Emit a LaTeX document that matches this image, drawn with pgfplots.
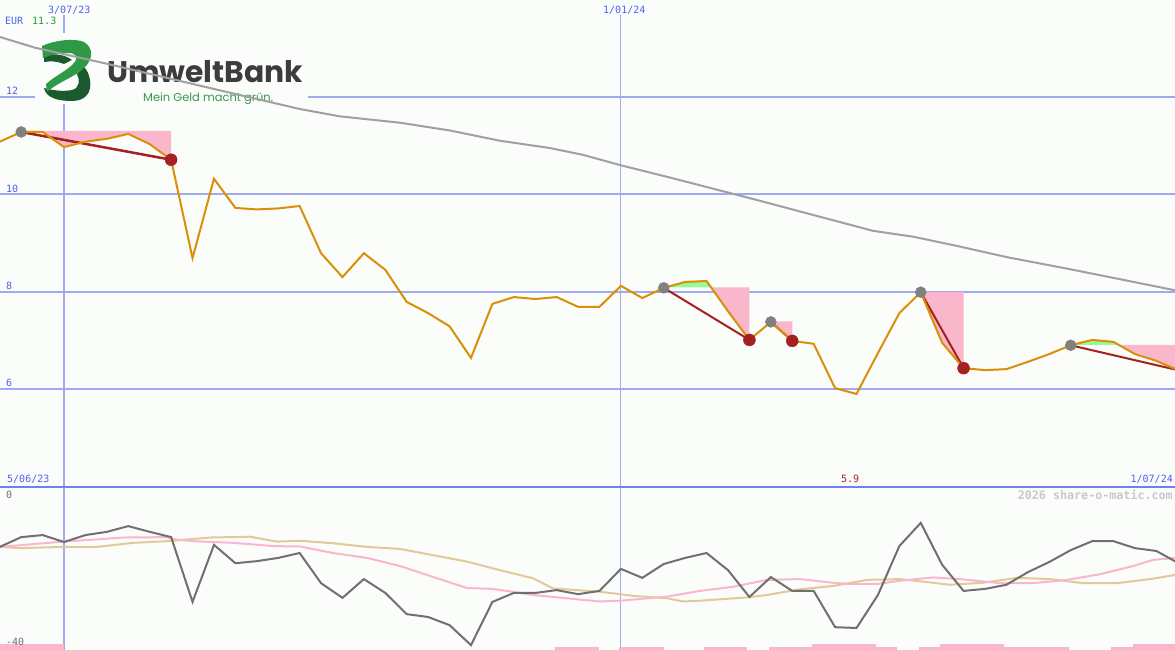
\documentclass[border=0pt]{standalone}
\usepackage{pgfplots}
\pgfplotsset{compat=1.18}
\usepackage{pgfplotstable}
\usepgfplotslibrary{fillbetween}
\usepackage{graphicx}
\usepackage{fontspec}
\setmainfont{DejaVu Sans}
\setmonofont{DejaVu Sans Mono}
\newfontfamily\logofont{Poppins}

\definecolor{bgc}{RGB}{251,253,251}
\definecolor{gridblue}{RGB}{160,170,240}
\definecolor{sepblue}{RGB}{112,128,240}
\definecolor{lblblue}{RGB}{80,96,240}
\definecolor{pricec}{RGB}{216,144,8}
\definecolor{mac}{RGB}{160,160,160}
\definecolor{trendred}{RGB}{165,32,32}
\definecolor{markgray}{RGB}{128,128,128}
\definecolor{pinkf}{RGB}{250,182,203}
\definecolor{greenf}{RGB}{152,250,152}
\definecolor{oscgray}{RGB}{112,112,112}
\definecolor{osctan}{RGB}{226,202,152}
\definecolor{logolight}{RGB}{46,154,72}
\definecolor{logodark}{RGB}{26,90,46}
\definecolor{logotext}{RGB}{60,60,60}
\definecolor{logosub}{RGB}{58,150,80}
\definecolor{eurgreen}{RGB}{32,160,32}
\definecolor{wmark}{RGB}{200,200,200}

% weekly closes, x = weeks after 3/07/23
\pgfplotstableread{
w v
-3 11.08
-2 11.28
-1 11.28
0 10.97
1 11.08
2 11.14
3 11.24
4 11.03
5 10.71
6 8.69
7 10.32
8 9.72
9 9.69
10 9.71
11 9.76
12 8.79
13 8.30
14 8.79
15 8.45
16 7.79
17 7.56
18 7.29
19 6.64
20 7.75
21 7.89
22 7.85
23 7.89
24 7.69
25 7.69
26 8.12
27 7.87
28 8.08
29 8.20
30 8.22
31 7.60
32 7.01
33 7.38
34 6.99
35 6.93
36 6.02
37 5.90
38 6.74
39 7.56
40 7.99
41 6.95
42 6.43
43 6.39
44 6.41
45 6.56
46 6.72
47 6.90
48 7.01
49 6.97
50 6.72
51 6.58
52 6.39
}\price

\begin{document}
\begin{tikzpicture}
\fill[bgc] (0,0) rectangle (1175bp,650bp);

\pgfplotsset{base/.style={scale only axis, width=1175bp,
  xmin=-2.99, xmax=51.87, axis line style={draw=none},
  major tick length=0pt, xtick=\empty, clip=true}}

% upper grid
\begin{axis}[base, at={(0bp,163bp)}, anchor=south west, height=487bp,
  ymin=3.99, ymax=13.99, ytick={6,8,10,12}, yticklabels={},
  ymajorgrids, grid style={gridblue, line width=2bp}]
\draw[gridblue, line width=2bp] (axis cs:0,3.99) -- (axis cs:0,13.68);
\draw[gridblue, line width=1bp] (axis cs:26,3.99) -- (axis cs:26,13.68);
\end{axis}

% logo
\begin{scope}[shift={(0bp,650bp)}, x=1bp, y=-1bp]
\fill[bgc] (35,33) rectangle (308,104);
\fill[logodark] (44,88) .. controls (46,98) and (58,101) .. (72,101)
  .. controls (86,101) and (92,92) .. (90,80) .. controls (89,74) and (87,70) .. (84,67)
  -- (77,74) .. controls (80,80) and (80,88) .. (72,90)
  .. controls (62,92) and (52,90) .. (44,88) -- cycle;
\fill[logodark] (44,55) .. controls (55,53) and (66,55) .. (72,60) -- (64,64)
  .. controls (57,61) and (50,61) .. (44,62) -- cycle;
\fill[logolight] (42,46) .. controls (55,40) and (75,38) .. (84,42)
  .. controls (94,48) and (93,60) .. (84,68) .. controls (75,77) and (58,82) .. (47,92)
  -- (46,84) .. controls (55,76) and (68,70) .. (74,63)
  .. controls (79,57) and (76,53) .. (68,53) .. controls (60,53) and (50,55) .. (43,58) -- cycle;
\node[anchor=base west, inner sep=0, text=logotext] at (107,83)
  {\resizebox{196bp}{!}{\logofont\bfseries UmweltBank}};
\node[anchor=base west, inner sep=0, text=logosub] at (143,101.5)
  {\resizebox{130bp}{!}{\logofont Mein Geld macht grün.}};
\end{scope}

% upper content
\begin{axis}[base, at={(0bp,163bp)}, anchor=south west, height=487bp,
  ymin=3.99, ymax=13.99, ytick=\empty, fill between/on layer=main]
\addplot[mac, line width=2bp] coordinates {
  (-2.99,13.23)(-1.35,13.01)(1.91,12.69)(6.35,12.23)(11.02,11.75)(12.89,11.60)
  (15.69,11.47)(18.02,11.31)(20.35,11.10)(22.69,10.95)(24.23,10.81)(25.96,10.60)
  (28.15,10.36)(32.03,9.92)(37.77,9.25)(39.64,9.13)(41.69,8.94)(44.02,8.71)
  (47.11,8.45)(51.87,8.03)};
\addplot[draw=none, name path=price] table[x=w, y=v] {\price};
\addplot[draw=none, name path=lvlA] coordinates {(-2,11.30)(5,11.30)};
\addplot[draw=none, name path=lvlB] coordinates {(28,8.09)(32,8.09)};
\addplot[draw=none, name path=lvlC] coordinates {(33,7.39)(34,7.39)};
\addplot[draw=none, name path=lvlD] coordinates {(40,7.99)(42,7.99)};
\addplot[draw=none, name path=lvlE] coordinates {(47,6.91)(52,6.91)};
\addplot[pinkf, draw=none] fill between[of=price and lvlA, soft clip={domain=-2:5}];
\addplot[greenf, draw=none] fill between[of=price and lvlB, soft clip={domain=28:30.2}];
\addplot[pinkf, draw=none] fill between[of=price and lvlB, soft clip={domain=30.2:32}];
\addplot[pinkf, draw=none] fill between[of=price and lvlC, soft clip={domain=33:34}];
\addplot[pinkf, draw=none] fill between[of=price and lvlD, soft clip={domain=40:42}];
\addplot[greenf, draw=none] fill between[of=price and lvlE, soft clip={domain=47:49.24}];
\addplot[pinkf, draw=none] fill between[of=price and lvlE, soft clip={domain=49.24:52}];
\addplot[trendred, line width=2.5bp] coordinates {(-2,11.28)(5,10.71)};
\addplot[trendred, line width=2bp] coordinates {(28,8.08)(32,7.01)};
\addplot[trendred, line width=2bp] coordinates {(33,7.38)(34,6.99)};
\addplot[trendred, line width=2bp] coordinates {(40,7.99)(42,6.43)};
\addplot[trendred, line width=2bp] coordinates {(47,6.90)(52,6.39)};
\addplot[only marks, mark=*, mark size=5.5bp, mark options={draw=markgray, fill=markgray}]
  coordinates {(-2,11.28)(28,8.08)(33,7.38)(40,7.99)(47,6.90)};
\addplot[only marks, mark=*, mark size=6bp, mark options={draw=trendred, fill=trendred}]
  coordinates {(5,10.71)(32,7.01)(34,6.99)(42,6.43)(52,6.39)};
\addplot[pricec, line width=2bp] table[x=w, y=v] {\price};
\end{axis}

% lower panel
\begin{axis}[base, at={(0bp,0bp)}, anchor=south west, height=163bp,
  ymin=-40, ymax=0, ytick=\empty]
\draw[gridblue, line width=2bp] (axis cs:0,-40) -- (axis cs:0,0);
\draw[gridblue, line width=1bp] (axis cs:26,-40) -- (axis cs:26,0);
\addplot[fill=pinkf, draw=none] coordinates {(-3,-40)(-3,-38.45)(0,-38.45)(0,-40)} -- cycle;
\addplot[fill=pinkf, draw=none] coordinates {(22.9,-40)(22.9,-39.34)(25,-39.34)(25,-40)} -- cycle;
\addplot[fill=pinkf, draw=none] coordinates {(25.9,-40)(25.9,-39.34)(28,-39.34)(28,-40)} -- cycle;
\addplot[fill=pinkf, draw=none] coordinates {(29.9,-40)(29.9,-39.34)(31.9,-39.34)(31.9,-40)} -- cycle;
\addplot[fill=pinkf, draw=none] coordinates {(32.9,-40)(32.9,-39.34)(34.9,-39.34)(34.9,-40)} -- cycle;
\addplot[fill=pinkf, draw=none] coordinates {(34.9,-40)(34.9,-38.45)(37.9,-38.45)(37.9,-40)} -- cycle;
\addplot[fill=pinkf, draw=none] coordinates {(37.9,-40)(37.9,-39.34)(38.9,-39.34)(38.9,-40)} -- cycle;
\addplot[fill=pinkf, draw=none] coordinates {(39.9,-40)(39.9,-39.34)(40.9,-39.34)(40.9,-40)} -- cycle;
\addplot[fill=pinkf, draw=none] coordinates {(40.9,-40)(40.9,-38.45)(43.9,-38.45)(43.9,-40)} -- cycle;
\addplot[fill=pinkf, draw=none] coordinates {(43.9,-40)(43.9,-39.34)(46.9,-39.34)(46.9,-40)} -- cycle;
\addplot[fill=pinkf, draw=none] coordinates {(48.9,-40)(48.9,-39.34)(49.9,-39.34)(49.9,-40)} -- cycle;
\addplot[fill=pinkf, draw=none] coordinates {(49.9,-40)(49.9,-38.45)(52,-38.45)(52,-40)} -- cycle;
\addplot[osctan, line width=2bp] coordinates {
  (-2.99,-14.7)(-2.05,-15.0)(-0.05,-14.7)(1.54,-14.7)(3.22,-13.7)(4.81,-13.3)
  (6.82,-12.4)(8.68,-12.2)(9.94,-13.4)(11.02,-13.2)(12.56,-13.8)(14.15,-14.7)
  (15.69,-15.2)(18.81,-18.3)(20.35,-20.4)(21.90,-22.4)(22.83,-24.9)(25.02,-25.7)
  (26.56,-26.7)(28.15,-27.3)(28.90,-28.1)(29.69,-27.9)(31.89,-27.1)(32.82,-26.5)
  (34.36,-25.1)(35.90,-24.3)(37.49,-22.8)(39.03,-22.6)(40.57,-23.5)(41.36,-24.0)
  (42.90,-23.5)(44.49,-22.3)(46.03,-22.6)(47.57,-23.6)(49.16,-23.6)(50.70,-22.6)
  (51.87,-21.6)};
\addplot[pinkf, line width=2bp] coordinates {
  (-2.99,-14.7)(-0.05,-13.4)(1.68,-12.8)(2.75,-12.4)(4.81,-12.3)(5.09,-12.8)
  (6.02,-13.3)(7.89,-13.7)(9.76,-14.5)(11.02,-14.6)(12.56,-16.2)(14.15,-17.4)
  (15.69,-19.4)(18.81,-24.8)(20.03,-25.0)(21.90,-26.5)(25.02,-28.1)(25.96,-27.9)
  (28.15,-26.9)(29.69,-25.5)(31.23,-24.5)(32.82,-22.8)(34.36,-22.6)(35.90,-23.5)
  (36.69,-23.8)(37.96,-23.8)(39.03,-23.0)(40.57,-22.2)(41.83,-22.6)(43.70,-23.6)
  (45.24,-23.6)(46.83,-22.8)(48.37,-21.4)(49.91,-19.4)(50.84,-17.9)(51.87,-17.4)};
\addplot[oscgray, line width=2bp] coordinates {
  (-3,-14.7)(-2,-12.3)(-1,-11.8)(0,-13.5)(1,-11.8)(2,-11.0)(3,-9.6)(4,-11.0)
  (5,-12.3)(6,-28.2)(7,-14.2)(8,-18.7)(9,-18.2)(10,-17.4)(11,-16.2)(12,-23.6)
  (13,-27.2)(14,-22.6)(15,-26.0)(16,-31.2)(17,-31.9)(18,-33.9)(19,-38.8)(20,-28.2)
  (21,-26.0)(22,-26.0)(23,-25.3)(24,-26.3)(25,-25.5)(26,-20.1)(27,-22.3)(28,-18.9)
  (29,-17.4)(30,-16.2)(31,-20.4)(32,-27.0)(33,-22.1)(34,-25.5)(35,-25.5)(36,-34.4)
  (37,-34.6)(38,-26.5)(39,-14.5)(40,-8.8)(41,-19.1)(42,-25.5)(43,-25.0)(44,-24.0)
  (45,-20.9)(46,-18.4)(47,-15.5)(48,-13.3)(49,-13.3)(50,-15.0)(51,-15.7)(52,-18.6)};
\end{axis}

\draw[sepblue, line width=2bp] (0,163bp) -- (1175bp,163bp);

% labels
\begin{scope}[shift={(0bp,650bp)}, x=1bp, y=-1bp,
  every node/.style={inner sep=0, anchor=base west,
    font=\ttfamily\fontsize{10bp}{12bp}\selectfont}]
\node[text=lblblue] at (48,13.5) {3/07/23};
\node[text=lblblue] at (603,13.3) {1/01/24};
\node[text=lblblue] at (5,25) {EUR};
\node[text=eurgreen] at (32,25) {11.3};
\node[text=lblblue] at (6,95) {12};
\node[text=lblblue] at (6,192.5) {10};
\node[text=lblblue] at (6,289.5) {8};
\node[text=lblblue] at (6,387) {6};
\node[text=lblblue] at (7,483) {5/06/23};
\node[text=trendred] at (841,483) {5.9};
\node[text=lblblue, anchor=base east] at (1173,483) {1/07/24};
\node[text=oscgray] at (6,499) {0};
\node[text=oscgray] at (6,645.5) {-40};
\node[text=wmark, anchor=base east,
  font=\ttfamily\bfseries\fontsize{11.7bp}{14bp}\selectfont] at (1173,499.5)
  {2026 share-o-matic.com};
\end{scope}
\pgfresetboundingbox
\useasboundingbox (0,0) rectangle (1175bp,650bp);
\end{tikzpicture}
\end{document}
